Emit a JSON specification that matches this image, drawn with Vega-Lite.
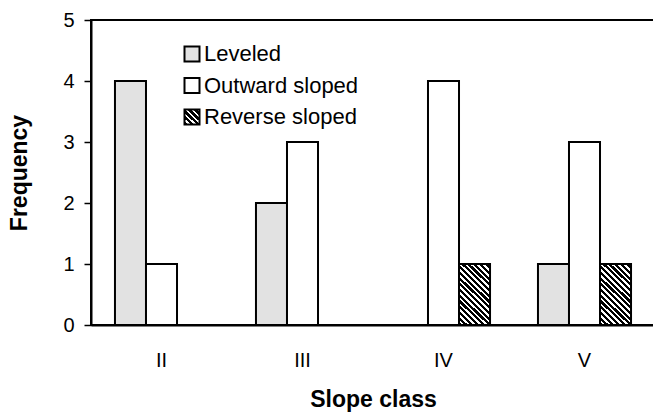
{
  "$schema": "https://vega.github.io/schema/vega-lite/v6.json",
  "autosize": "none",
  "width": 564,
  "height": 305,
  "padding": {"left": 91, "top": 20, "right": 0, "bottom": 87},
  "config": {
    "font": "Liberation Sans",
    "view": {"stroke": "black", "strokeWidth": 2},
    "axis": {"labelFont": "Liberation Sans", "titleFont": "Liberation Sans", "labelColor": "black", "titleColor": "black", "domainColor": "black", "tickColor": "black", "domainWidth": 2, "tickWidth": 1.5, "grid": false}
  },
  "data": {
    "values": [
      {"cls": "II", "type": "Leveled", "freq": 4},
      {"cls": "II", "type": "Outward sloped", "freq": 1},
      {"cls": "II", "type": "Reverse sloped", "freq": 0},
      {"cls": "III", "type": "Leveled", "freq": 2},
      {"cls": "III", "type": "Outward sloped", "freq": 3},
      {"cls": "III", "type": "Reverse sloped", "freq": 0},
      {"cls": "IV", "type": "Leveled", "freq": 0},
      {"cls": "IV", "type": "Outward sloped", "freq": 4},
      {"cls": "IV", "type": "Reverse sloped", "freq": 1},
      {"cls": "V", "type": "Leveled", "freq": 1},
      {"cls": "V", "type": "Outward sloped", "freq": 3},
      {"cls": "V", "type": "Reverse sloped", "freq": 1}
    ]
  },
  "mark": {"type": "bar", "stroke": "black", "strokeWidth": 2},
  "encoding": {
    "x": {
      "field": "cls", "type": "nominal", "sort": null,
      "scale": {"paddingInner": 0.34, "paddingOuter": 0.17},
      "axis": {"title": "Slope class", "labelAngle": 0, "ticks": false, "labelFontSize": 20, "labelPadding": 25, "titleFontSize": 23, "titleFontWeight": "bold", "titlePadding": 18}
    },
    "xOffset": {"field": "type", "type": "nominal", "sort": null, "scale": {"domain": ["Leveled", "Outward sloped", "Reverse sloped"], "paddingInner": 0, "paddingOuter": 0}},
    "y": {
      "field": "freq", "type": "quantitative",
      "scale": {"domain": [0, 5]},
      "axis": {"title": "Frequency", "values": [0, 1, 2, 3, 4, 5], "tickSize": 7, "labelFontSize": 20, "labelPadding": 10, "titleFontSize": 23, "titleFontWeight": "bold", "titlePadding": 31, "labelBaseline": "middle"}
    },
    "fill": {
      "condition": {
        "test": "datum.type === 'Reverse sloped'",
        "value": {
          "gradient": "linear", "x1": 0, "y1": 1, "x2": 0.6, "y2": -0.2,
          "stops": [
            {"offset": 0, "color": "#000"}, {"offset": 0.0344, "color": "#000"}, {"offset": 0.0344, "color": "#fff"}, {"offset": 0.0625, "color": "#fff"},
            {"offset": 0.0625, "color": "#000"}, {"offset": 0.0969, "color": "#000"}, {"offset": 0.0969, "color": "#fff"}, {"offset": 0.125, "color": "#fff"},
            {"offset": 0.125, "color": "#000"}, {"offset": 0.1594, "color": "#000"}, {"offset": 0.1594, "color": "#fff"}, {"offset": 0.1875, "color": "#fff"},
            {"offset": 0.1875, "color": "#000"}, {"offset": 0.2219, "color": "#000"}, {"offset": 0.2219, "color": "#fff"}, {"offset": 0.25, "color": "#fff"},
            {"offset": 0.25, "color": "#000"}, {"offset": 0.2844, "color": "#000"}, {"offset": 0.2844, "color": "#fff"}, {"offset": 0.3125, "color": "#fff"},
            {"offset": 0.3125, "color": "#000"}, {"offset": 0.3469, "color": "#000"}, {"offset": 0.3469, "color": "#fff"}, {"offset": 0.375, "color": "#fff"},
            {"offset": 0.375, "color": "#000"}, {"offset": 0.4094, "color": "#000"}, {"offset": 0.4094, "color": "#fff"}, {"offset": 0.4375, "color": "#fff"},
            {"offset": 0.4375, "color": "#000"}, {"offset": 0.4719, "color": "#000"}, {"offset": 0.4719, "color": "#fff"}, {"offset": 0.5, "color": "#fff"},
            {"offset": 0.5, "color": "#000"}, {"offset": 0.5344, "color": "#000"}, {"offset": 0.5344, "color": "#fff"}, {"offset": 0.5625, "color": "#fff"},
            {"offset": 0.5625, "color": "#000"}, {"offset": 0.5969, "color": "#000"}, {"offset": 0.5969, "color": "#fff"}, {"offset": 0.625, "color": "#fff"},
            {"offset": 0.625, "color": "#000"}, {"offset": 0.6594, "color": "#000"}, {"offset": 0.6594, "color": "#fff"}, {"offset": 0.6875, "color": "#fff"},
            {"offset": 0.6875, "color": "#000"}, {"offset": 0.7219, "color": "#000"}, {"offset": 0.7219, "color": "#fff"}, {"offset": 0.75, "color": "#fff"},
            {"offset": 0.75, "color": "#000"}, {"offset": 0.7844, "color": "#000"}, {"offset": 0.7844, "color": "#fff"}, {"offset": 0.8125, "color": "#fff"},
            {"offset": 0.8125, "color": "#000"}, {"offset": 0.8469, "color": "#000"}, {"offset": 0.8469, "color": "#fff"}, {"offset": 0.875, "color": "#fff"},
            {"offset": 0.875, "color": "#000"}, {"offset": 0.9094, "color": "#000"}, {"offset": 0.9094, "color": "#fff"}, {"offset": 0.9375, "color": "#fff"},
            {"offset": 0.9375, "color": "#000"}, {"offset": 0.9719, "color": "#000"}, {"offset": 0.9719, "color": "#fff"}, {"offset": 1, "color": "#fff"}
          ]
        }
      },
      "field": "type", "type": "nominal", "sort": null,
      "scale": {
        "domain": ["Leveled", "Outward sloped", "Reverse sloped"],
        "range": [
          "#e2e2e2",
          "#ffffff",
          {"expr": "{gradient: 'linear', x1: 0, y1: 1, x2: 1, y2: 0, stops: [{offset: 0, color: '#000'}, {offset: 0.11, color: '#000'}, {offset: 0.11, color: '#fff'}, {offset: 0.2, color: '#fff'}, {offset: 0.2, color: '#000'}, {offset: 0.31, color: '#000'}, {offset: 0.31, color: '#fff'}, {offset: 0.4, color: '#fff'}, {offset: 0.4, color: '#000'}, {offset: 0.51, color: '#000'}, {offset: 0.51, color: '#fff'}, {offset: 0.6, color: '#fff'}, {offset: 0.6, color: '#000'}, {offset: 0.71, color: '#000'}, {offset: 0.71, color: '#fff'}, {offset: 0.8, color: '#fff'}, {offset: 0.8, color: '#000'}, {offset: 0.91, color: '#000'}, {offset: 0.91, color: '#fff'}, {offset: 1, color: '#fff'}]}"}
        ]
      },
      "legend": {
        "title": null, "orient": "none", "legendX": 90, "legendY": 23,
        "symbolType": "square", "symbolSize": 225, "symbolStrokeColor": "black", "symbolStrokeWidth": 2,
        "labelFontSize": 22, "labelColor": "black", "rowPadding": 7.5, "labelOffset": 1
      }
    }
  }
}
